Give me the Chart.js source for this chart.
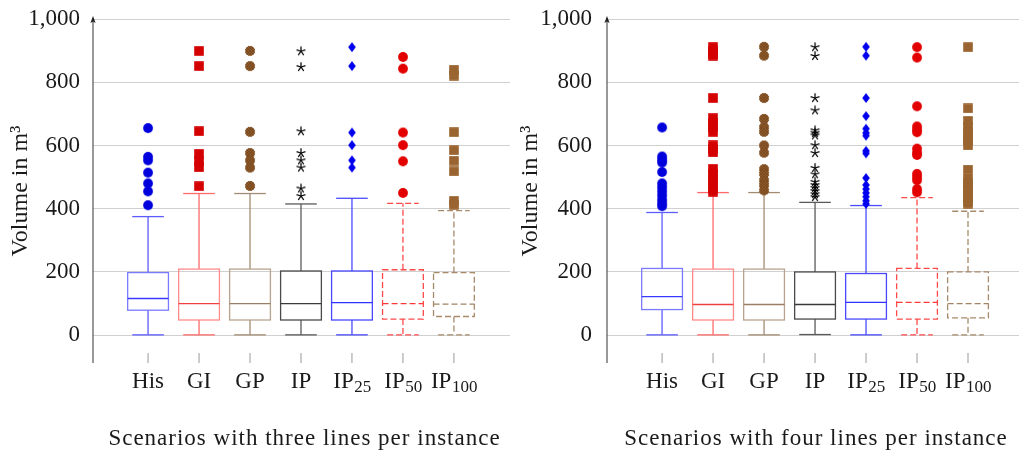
<!DOCTYPE html>
<html>
<head>
<meta charset="utf-8">
<script src="https://cdn.jsdelivr.net/npm/chart.js@4.4.1/dist/chart.umd.min.js"></script>
<style>
    html, body { margin: 0; padding: 0; background: #fff; }
    #wrap { display: flex; width: 1019px; height: 450px; }
    .cell { position: relative; height: 450px; }
</style>
</head>
<body>
<div id="wrap">
    <div class="cell" style="width:510px"><canvas id="chart-three"></canvas></div>
    <div class="cell" style="width:509px"><canvas id="chart-four"></canvas></div>
</div>
<script>
// ============================================
// box plots: volume per scenario
// ============================================

const CATEGORIES = ['His', 'GI', 'GP', 'IP', 'IP25', 'IP50', 'IP100'];
const LABEL_MAIN = ['His', 'GI', 'GP', 'IP', 'IP', 'IP', 'IP'];
const LABEL_SUB = ['', '', '', '', '25', '50', '100'];
const Y_TICKS = [0, 200, 400, 600, 800, 1000];

// three lines per instance
const THREE_LOW = [1, 1, 1, 1, 1, 1, 1];
const THREE_Q1 = [79, 48, 48, 48, 48, 51, 59];
const THREE_MEDIAN = [116, 100, 100, 100, 103, 100, 98];
const THREE_Q3 = [198, 209, 209, 203, 203, 207, 198];
const THREE_HIGH = [375, 448, 448, 415, 433, 417, 394];
const THREE_OUTLIERS = [
    [655, 564, 553, 514, 480, 455, 411],
    [899, 851, 645, 574, 552, 531, 471],
    [899, 851, 643, 576, 553, 530, 472],
    [898, 848, 645, 576, 553, 530, 464, 440],
    [911, 851, 641, 601, 553, 530],
    [880, 843, 641, 601, 550, 450],
    [840, 821, 642, 585, 552, 518, 425, 413],
];

// four lines per instance
const FOUR_LOW = [1, 1, 1, 2, 1, 1, 1];
const FOUR_Q1 = [81, 48, 48, 51, 51, 51, 55];
const FOUR_MEDIAN = [122, 97, 97, 97, 104, 104, 100];
const FOUR_Q3 = [211, 209, 209, 200, 195, 211, 200];
const FOUR_HIGH = [388, 451, 451, 420, 410, 435, 392];
const FOUR_OUTLIERS = [
    [657, 565, 555, 546, 516, 480, 468, 455, 442, 428, 417, 408],
    [911, 900, 890, 884, 750, 686, 672, 658, 643, 600, 589, 578, 526, 510, 495, 480, 466, 454],
    [912, 884, 750, 684, 658, 643, 600, 577, 525, 510, 490, 475, 458],
    [911, 883, 750, 711, 648, 640, 632, 601, 576, 529, 509, 485, 475, 466, 456, 446, 437],
    [912, 884, 750, 693, 653, 640, 631, 583, 575, 497, 475, 462, 450, 438, 425, 415],
    [911, 878, 724, 660, 650, 642, 590, 577, 570, 510, 500, 490, 462, 452],
    [911, 717, 678, 660, 643, 628, 615, 600, 524, 495, 480, 466, 455, 440, 425, 416],
];

const SERIF = "'Liberation Serif', 'DejaVu Serif', serif";
const TEXT_COLOR = '#1a1a1a';
const BOX_HALF = 0.40;   // in category units
const CAP_HALF = 0.31;

// 箱線樣式 (box / whisker / median / dash)
const BOX_STYLES = [
    { box: '#7a7aff', whisker: '#5c5cff', median: '#3a3aff', dash: [] },
    { box: '#ff8a8a', whisker: '#ff6a6a', median: '#ee4040', dash: [] },
    { box: '#b8a38e', whisker: '#a38b73', median: '#9a7f66', dash: [] },
    { box: '#4a4a4a', whisker: '#5a5a5a', median: '#3a3a3a', dash: [] },
    { box: '#4848ff', whisker: '#4a4aff', median: '#3030ff', dash: [] },
    { box: '#ff4a4a', whisker: '#ff4a4a', median: '#ff3a3a', dash: [6, 3] },
    { box: '#a68a6a', whisker: '#a68a6a', median: '#a08464', dash: [6, 3] },
];

function sprite(w, h, draw) {
    const c = document.createElement('canvas');
    c.width = w; c.height = h;
    const g = c.getContext('2d');
    draw(g, w / 2, h / 2);
    return c;
}

const dot = (color) => sprite(12, 12, (g, cx, cy) => {
    g.fillStyle = color;
    g.beginPath(); g.arc(cx, cy, 4.9, 0, Math.PI * 2); g.fill();
});

const square = (color) => sprite(10, 10, (g) => {
    g.fillStyle = color;
    g.fillRect(0.2, 0.2, 9.6, 9.6);
});

const hatchedDot = (color, hatch) => sprite(12, 12, (g, cx, cy) => {
    g.fillStyle = color;
    g.beginPath(); g.arc(cx, cy, 4.9, 0, Math.PI * 2); g.fill();
    g.save(); g.clip();
    g.strokeStyle = hatch; g.lineWidth = 0.6;
    for (let k = -12; k <= 12; k += 3) {
        g.beginPath(); g.moveTo(k, 0); g.lineTo(k + 12, 12); g.stroke();
        g.beginPath(); g.moveTo(k + 12, 0); g.lineTo(k, 12); g.stroke();
    }
    g.restore();
});

const star = (color) => sprite(12, 12, (g, cx, cy) => {
    g.strokeStyle = color; g.lineWidth = 1.25;
    for (let k = 0; k < 5; k++) {
        const a = -Math.PI / 2 + k * 2 * Math.PI / 5;
        g.beginPath(); g.moveTo(cx, cy);
        g.lineTo(cx + 4.7 * Math.cos(a), cy + 4.7 * Math.sin(a)); g.stroke();
    }
});

const diamond = (color) => sprite(10, 12, (g, cx, cy) => {
    g.fillStyle = color;
    g.beginPath();
    g.moveTo(cx, cy - 5); g.lineTo(cx + 3.8, cy); g.lineTo(cx, cy + 5); g.lineTo(cx - 3.8, cy);
    g.closePath(); g.fill();
});

const MARKERS = [
    dot('#0000dd'),
    square('#d40000'),
    hatchedDot('#8e5a2c', '#6e4018'),
    star('#000000'),
    diamond('#0000ee'),
    dot('#e20000'),
    square('#9a6430'),
];

function boxPlugin(stats, xTitle) {
    return {
        id: 'boxes',
        beforeDatasetsDraw(chart) {
            const { ctx, scales: { x, y } } = chart;
            const line = (x1, y1, x2, y2) => {
                ctx.beginPath(); ctx.moveTo(x1, y1); ctx.lineTo(x2, y2); ctx.stroke();
            };
            CATEGORIES.forEach((c, i) => {
                const st = BOX_STYLES[i];
                const cx = x.getPixelForValue(i + 1);
                const half = x.getPixelForValue(i + 1 + BOX_HALF) - cx;
                const cap = x.getPixelForValue(i + 1 + CAP_HALF) - cx;
                const yLo = y.getPixelForValue(stats.low[i]);
                const yQ1 = y.getPixelForValue(stats.q1[i]);
                const yMed = y.getPixelForValue(stats.median[i]);
                const yQ3 = y.getPixelForValue(stats.q3[i]);
                const yHi = y.getPixelForValue(stats.high[i]);
                ctx.save();
                ctx.lineWidth = 1.3;
                ctx.setLineDash(st.dash);
                ctx.strokeStyle = st.whisker;
                line(cx, yQ3, cx, yHi);
                line(cx, yQ1, cx, yLo);
                line(cx - cap, yHi, cx + cap, yHi);
                line(cx - cap, yLo, cx + cap, yLo);
                ctx.strokeStyle = st.box;
                ctx.strokeRect(cx - half, yQ3, half * 2, yQ1 - yQ3);
                ctx.strokeStyle = st.median;
                line(cx - half, yMed, cx + half, yMed);
                ctx.restore();
            });
        },
        afterDraw(chart) {
            const { ctx, chartArea, scales: { x } } = chart;
            const ax = chartArea.left;
            ctx.save();
            // y 軸線 + 箭頭
            ctx.strokeStyle = '#444';
            ctx.fillStyle = '#222';
            ctx.lineWidth = 1.1;
            ctx.beginPath();
            ctx.moveTo(ax, chartArea.bottom);
            ctx.lineTo(ax, chartArea.top - 1);
            ctx.stroke();
            ctx.beginPath();
            ctx.moveTo(ax, chartArea.top - 3);
            ctx.lineTo(ax - 2.6, chartArea.top + 4);
            ctx.lineTo(ax, chartArea.top + 2.5);
            ctx.lineTo(ax + 2.6, chartArea.top + 4);
            ctx.closePath();
            ctx.fill();

            // x 刻度與標籤
            ctx.strokeStyle = '#999';
            ctx.lineWidth = 1;
            ctx.fillStyle = TEXT_COLOR;
            ctx.textBaseline = 'alphabetic';
            CATEGORIES.forEach((c, i) => {
                const px = x.getPixelForValue(i + 1);
                ctx.beginPath();
                ctx.moveTo(px, chartArea.bottom);
                ctx.lineTo(px, chartArea.bottom - 10);
                ctx.stroke();

                ctx.font = `23px ${SERIF}`;
                const wMain = ctx.measureText(LABEL_MAIN[i]).width;
                ctx.font = `17px ${SERIF}`;
                const wSub = LABEL_SUB[i] ? ctx.measureText(LABEL_SUB[i]).width : 0;
                const left = px - (wMain + wSub) / 2;
                ctx.textAlign = 'left';
                ctx.font = `23px ${SERIF}`;
                ctx.fillText(LABEL_MAIN[i], left, chartArea.bottom + 25);
                if (LABEL_SUB[i]) {
                    ctx.font = `17px ${SERIF}`;
                    ctx.fillText(LABEL_SUB[i], left + wMain + 0.5, chartArea.bottom + 29);
                }
            });

            ctx.font = `23px ${SERIF}`;
            ctx.letterSpacing = '1px';
            ctx.textAlign = 'center';
            ctx.fillText(xTitle, (chartArea.left + chartArea.right) / 2 + 3, chartArea.bottom + 82);
            ctx.restore();
        },
    };
}

function buildChart(canvasId, stats, outliers, opts) {
    const datasets = CATEGORIES.map((c, i) => ({
        label: c,
        data: outliers[i].map(v => ({ x: i + 1, y: v })),
        pointStyle: MARKERS[i],
        pointRadius: 5,
        pointHoverRadius: 5,
        showLine: false,
    }));

    return new Chart(document.getElementById(canvasId), {
        type: 'scatter',
        data: { datasets },
        options: {
            responsive: true,
            maintainAspectRatio: false,
            animation: false,
            layout: { autoPadding: false, padding: { top: 19, right: 0, bottom: 87, left: 0 } },
            plugins: {
                legend: { display: false },
                tooltip: { enabled: false },
            },
            scales: {
                x: {
                    type: 'linear',
                    display: false,
                    min: -0.08,
                    max: opts.xMax,
                },
                y: {
                    min: -88,
                    max: 1000,
                    afterBuildTicks: (s) => { s.ticks = Y_TICKS.map(v => ({ value: v })); },
                    afterFit: (s) => {
                        s.width = opts.axisLeft;
                        s.paddingTop = 0;
                        s.paddingBottom = 0;
                    },
                    border: { display: false },
                    grid: { color: '#d0d0d0', lineWidth: 1, drawTicks: false },
                    ticks: {
                        padding: opts.labelPad,
                        color: TEXT_COLOR,
                        font: { family: SERIF, size: 23 },
                        callback: (v) => v >= 1000 ? `${Math.floor(v / 1000)},${String(v % 1000).padStart(3, '0')}` : `${v}`,
                    },
                    title: {
                        display: true,
                        text: 'Volume in m³',
                        color: TEXT_COLOR,
                        font: { family: SERIF, size: 24 },
                        padding: { top: 6, bottom: 0 },
                    },
                },
            },
        },
        plugins: [boxPlugin(stats, opts.xTitle)],
    });
}

buildChart('chart-three',
    { low: THREE_LOW, q1: THREE_Q1, median: THREE_MEDIAN, q3: THREE_Q3, high: THREE_HIGH },
    THREE_OUTLIERS,
    { xMax: 8.1, axisLeft: 93, labelPad: 13, xTitle: 'Scenarios with three lines per instance' });

buildChart('chart-four',
    { low: FOUR_LOW, q1: FOUR_Q1, median: FOUR_MEDIAN, q3: FOUR_Q3, high: FOUR_HIGH },
    FOUR_OUTLIERS,
    { xMax: 8.0, axisLeft: 97, labelPad: 15, xTitle: 'Scenarios with four lines per instance' });
</script>
</body>
</html>
